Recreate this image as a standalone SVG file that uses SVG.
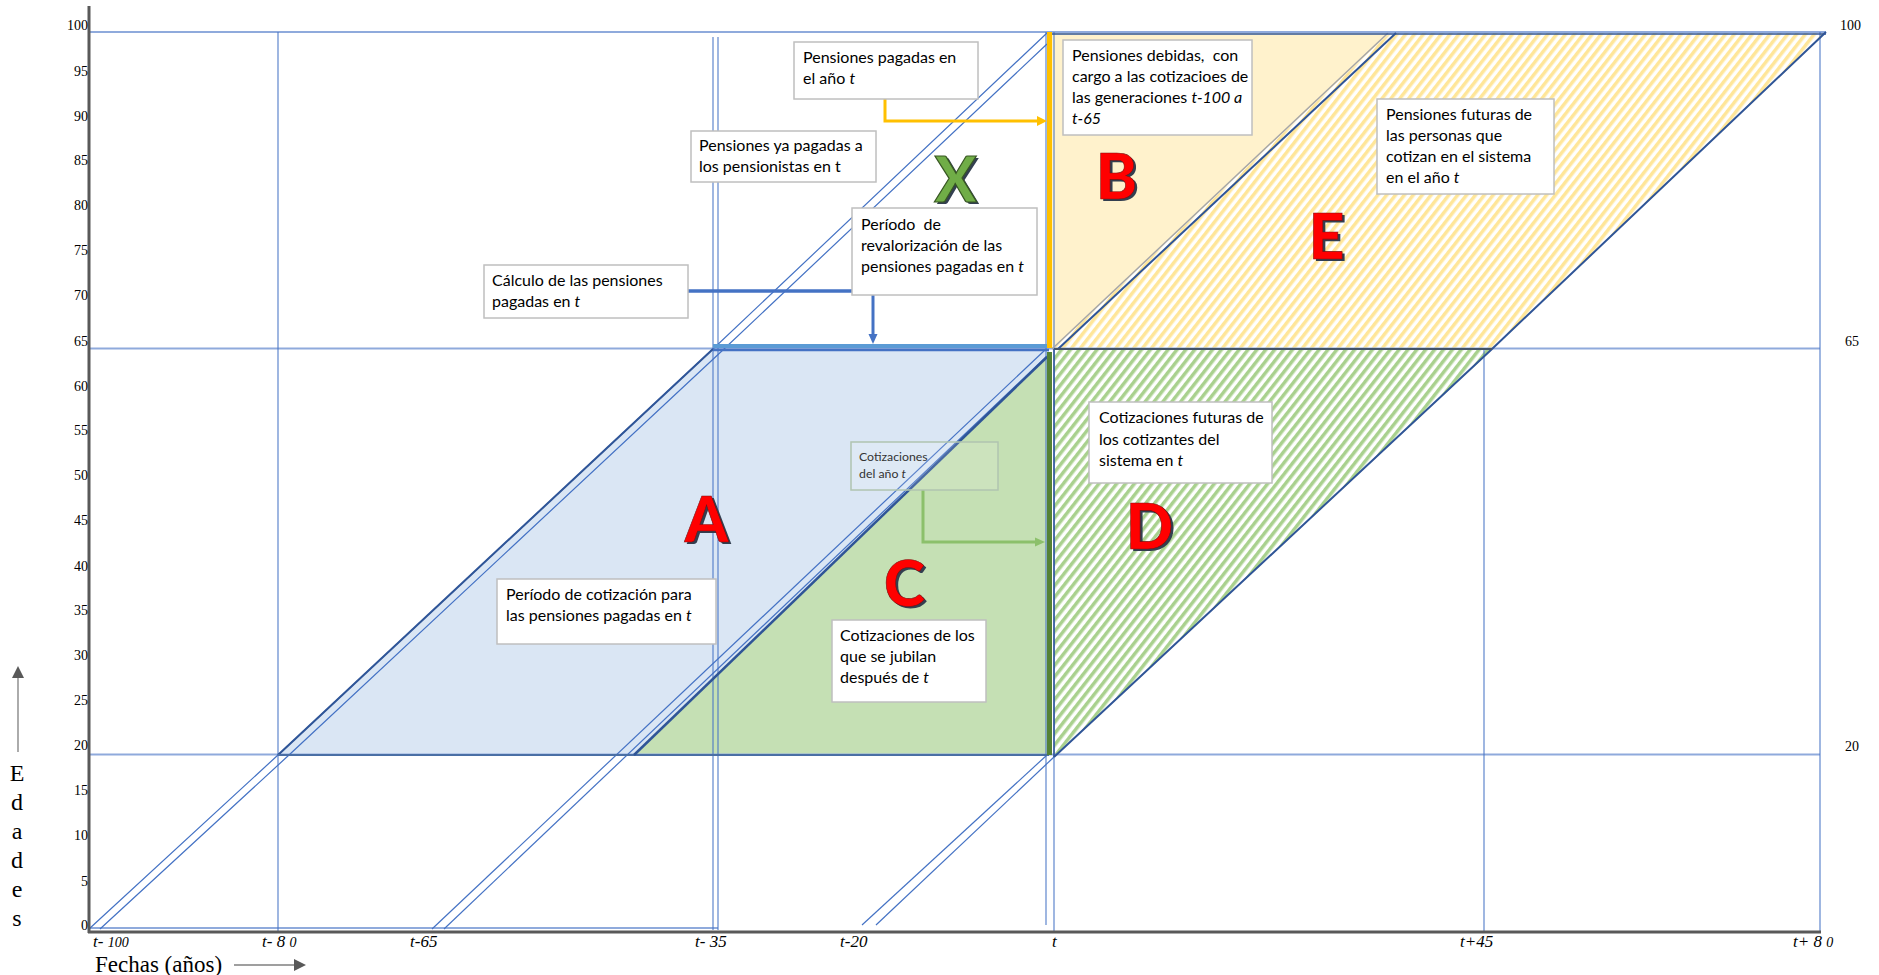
<svg xmlns="http://www.w3.org/2000/svg" width="1879" height="975" viewBox="0 0 1879 975">
<defs>
<style>
.grid{stroke:#8FAADC;stroke-width:2;fill:none}
.vl{stroke:#4472C4;stroke-width:1.2;fill:none;opacity:.85}
.coh{stroke:#4472C4;stroke-width:1.2;fill:none}
.edge{stroke:#2F5597;stroke-width:2;fill:none}
.box{fill:#fff;stroke:#BFBFBF;stroke-width:1.5}
.bt{font-family:Lato,"Open Sans",sans-serif;font-size:16px;fill:#000;white-space:pre}
.st{font-family:Lato,"Open Sans",sans-serif;font-size:12.3px;fill:#333}
.tick{font-family:"Liberation Serif",serif;font-size:14px;fill:#000;text-anchor:end}
.rt{font-family:"Liberation Serif",serif;font-size:14px;fill:#000}
.xl{font-family:"Liberation Serif",serif;font-size:17px;font-style:italic;fill:#000;white-space:pre}
.big{font-family:Lato,"Open Sans",sans-serif;font-weight:900;font-size:62px;text-anchor:middle}
.sh{fill:#333F50}
.red{fill:#FF0000;stroke:#7A1010;stroke-width:.6}
.grn{fill:#70AD47;stroke:#385723;stroke-width:1.2}
.ed{font-family:"Liberation Serif",serif;font-size:24px;fill:#000;text-anchor:middle}
</style>
<pattern id="hatchD" patternUnits="userSpaceOnUse" width="7" height="10" patternTransform="rotate(38)">
<rect width="7" height="10" fill="#fff"/>
<rect width="3.5" height="10" fill="#A9D18E"/>
</pattern>
<pattern id="hatchE" patternUnits="userSpaceOnUse" width="7" height="10" patternTransform="rotate(38)">
<rect width="7" height="10" fill="#fff"/>
<rect width="3.5" height="10" fill="#FFE699"/>
</pattern>
<marker id="arY" markerUnits="userSpaceOnUse" markerWidth="10" markerHeight="10" refX="0" refY="5" orient="auto"><path d="M0,0 L10,5 L0,10 z" fill="#FFC000"/></marker>
<marker id="arB" markerUnits="userSpaceOnUse" markerWidth="10" markerHeight="10" refX="0" refY="5" orient="auto"><path d="M0,0.5 L10,5 L0,9.5 z" fill="#4472C4"/></marker>
<marker id="arG" markerUnits="userSpaceOnUse" markerWidth="10" markerHeight="10" refX="0" refY="5" orient="auto"><path d="M0,0.5 L10,5 L0,9.5 z" fill="#8CC06B"/></marker>
<marker id="arK" markerUnits="userSpaceOnUse" markerWidth="12" markerHeight="12" refX="0" refY="6" orient="auto"><path d="M0,0 L12,6 L0,12 z" fill="#595959"/></marker>
</defs>
<rect width="1879" height="975" fill="#fff"/>

<g id="regions">
<polygon id="regionA" points="278,755 713,349 1049,349 1049,755" fill="#DAE6F4"/>
<polygon id="regionC" points="634,755 1047,357 1049,357 1049,755" fill="#C5E0B4"/>
<polygon id="regionB" points="1052,33 1390,33 1052,349" fill="#FFF2CC"/>
<polygon id="regionE" points="1053,349 1390,33 1826,33 1492,349" fill="url(#hatchE)"/>
<polygon id="regionD" points="1054,350 1492,350 1054,757" fill="url(#hatchD)"/>
</g>

<g id="grid">
<path class="grid" d="M89 32 H1826 M89 348.5 H1820 M89 754.5 H1820 M89 928 H718"/>
<path class="vl" d="M278 32 V932 M713 37 V930 M718 37 V930 M1046 32 V925 M1054 32 V932 M1484 349 V932 M1820 32 V932"/>
</g>

<g id="connectors">
<g id="cohorts">
<path class="coh" d="M89 929 L278 755 L713 349 L1047 33"/>
<path class="coh" d="M100 929 L289 755 L724 349 L1047 44"/>
<path class="coh" d="M432 929 L1045 350"/>
<path class="coh" d="M444 929 L1047 356"/>
<path class="coh" d="M862 925 L1047 755"/>
<path class="coh" d="M876 925 L1054 757"/>
</g>
<g id="edges">
<path class="edge" d="M278 755 L713 349"/>
<path d="M278 755 H1049" stroke="#4A6FA5" stroke-width="2" fill="none"/>
<path d="M634 755 L1047 357" stroke="#2F5597" stroke-width="2.5" fill="none"/>
<path d="M1052 349 L1388 33" stroke="#A6A6A6" stroke-width="1.5" fill="none"/>
<path class="edge" d="M1058 349 L1396 33"/>
<path class="edge" d="M1054 757 L1492 349 L1826 32"/>
<path d="M1052 34 H1826" stroke="#2F5597" stroke-width="1.5" fill="none"/>
<path d="M1054 349 H1492" stroke="#44546A" stroke-width="2" fill="none"/>
<path d="M1054 349 V757" stroke="#2F5597" stroke-width="1.5" fill="none"/>
</g>
<g id="thick">
<path d="M713 346 H1049" stroke="#5B9BD5" stroke-width="4" fill="none"/>
<path d="M713 350 H1049" stroke="#4472C4" stroke-width="2.5" fill="none"/>
<path d="M1049.5 32 V348" stroke="#FFC000" stroke-width="5" fill="none"/>
<path d="M1049.5 352 V755" stroke="#548235" stroke-width="5" fill="none"/>
</g>
<path id="arrowYellow" d="M885 99 V121 H1037" stroke="#FFC000" stroke-width="3" fill="none" marker-end="url(#arY)"/>
<path id="lineBlue" d="M688 291 H852" stroke="#4472C4" stroke-width="3.5" fill="none"/>
<path id="arrowBlue" d="M873 295 V334" stroke="#4472C4" stroke-width="3" fill="none" marker-end="url(#arB)"/>
<path id="arrowGreen" d="M923 490 V542 H1035" stroke="#8CC06B" stroke-width="3" fill="none" marker-end="url(#arG)"/>
</g>

<g id="box-pagadas-t">
<rect class="box" x="794" y="42" width="184" height="57"/>
<text class="bt" x="803" y="63">Pensiones pagadas en</text>
<text class="bt" x="803" y="84">el año <tspan font-style="italic">t</tspan></text>
</g>
<g id="box-ya-pagadas">
<rect class="box" x="691" y="131" width="185" height="51"/>
<text class="bt" x="699" y="151">Pensiones ya pagadas a</text>
<text class="bt" x="699" y="172">los pensionistas en t</text>
</g>
<g id="box-revalorizacion">
<rect class="box" x="852" y="208" width="185" height="87"/>
<text class="bt" x="861" y="230">Período  de</text>
<text class="bt" x="861" y="251">revalorización de las</text>
<text class="bt" x="861" y="272">pensiones pagadas en <tspan font-style="italic">t</tspan></text>
</g>
<g id="box-calculo">
<rect class="box" x="484" y="265" width="204" height="53"/>
<text class="bt" x="492" y="286">Cálculo de las pensiones</text>
<text class="bt" x="492" y="307">pagadas en <tspan font-style="italic">t</tspan></text>
</g>
<g id="box-debidas">
<rect class="box" x="1063" y="40" width="189" height="95"/>
<text class="bt" x="1072" y="61">Pensiones debidas,  con</text>
<text class="bt" x="1072" y="82">cargo a las cotizacioes de</text>
<text class="bt" x="1072" y="103">las generaciones <tspan font-style="italic">t-100 a</tspan></text>
<text class="bt" x="1072" y="124" font-style="italic">t-65</text>
</g>
<g id="box-futuras">
<rect class="box" x="1377" y="99" width="177" height="95"/>
<text class="bt" x="1386" y="120">Pensiones futuras de</text>
<text class="bt" x="1386" y="141">las personas que</text>
<text class="bt" x="1386" y="162">cotizan en el sistema</text>
<text class="bt" x="1386" y="183">en el año <tspan font-style="italic">t</tspan></text>
</g>
<g id="box-cot-futuras">
<rect class="box" x="1089" y="402" width="183" height="81"/>
<text class="bt" x="1099" y="423">Cotizaciones futuras de</text>
<text class="bt" x="1099" y="445">los cotizantes del</text>
<text class="bt" x="1099" y="466">sistema en <tspan font-style="italic">t</tspan></text>
</g>
<g id="box-cot-ano">
<rect x="851" y="442" width="147" height="48" fill="#fff" fill-opacity="0.12" stroke="#B0C4B0" stroke-width="1.5"/>
<text class="st" x="859" y="461">Cotizaciones</text>
<text class="st" x="859" y="478">del año <tspan font-style="italic">t</tspan></text>
</g>
<g id="box-periodo-cot">
<rect class="box" x="497" y="579" width="219" height="65"/>
<text class="bt" x="506" y="600">Período de cotización para</text>
<text class="bt" x="506" y="621">las pensiones pagadas en <tspan font-style="italic">t</tspan></text>
</g>
<g id="box-jubilan">
<rect class="box" x="832" y="620" width="154" height="82"/>
<text class="bt" x="840" y="641">Cotizaciones de los</text>
<text class="bt" x="840" y="662">que se jubilan</text>
<text class="bt" x="840" y="683">después de <tspan font-style="italic">t</tspan></text>
</g>

<g id="letter-X"><text class="big sh" x="958" y="204">X</text><text class="big grn" x="955.5" y="201.5">X</text></g>
<g id="letter-B"><text class="big sh" x="1119" y="201">B</text><text class="big red" x="1116.5" y="198.5">B</text></g>
<g id="letter-E"><text class="big sh" x="1329" y="261">E</text><text class="big red" x="1326.5" y="258.5">E</text></g>
<g id="letter-A"><text class="big sh" x="709" y="544">A</text><text class="big red" x="706.5" y="541.5">A</text></g>
<g id="letter-C"><text class="big sh" x="907" y="608">C</text><text class="big red" x="904.5" y="605.5">C</text></g>
<g id="letter-D"><text class="big sh" x="1152" y="551">D</text><text class="big red" x="1149.5" y="548.5">D</text></g>

<g id="axes">
<path d="M89 6 V933" stroke="#595959" stroke-width="3" fill="none"/>
<path d="M88 932 H1821" stroke="#595959" stroke-width="3" fill="none"/>
<path d="M18 752 V678" stroke="#7F7F7F" stroke-width="1.3" fill="none" marker-end="url(#arK)"/>
<path d="M234 965 H294" stroke="#7F7F7F" stroke-width="1.3" fill="none" marker-end="url(#arK)"/>
</g>

<g id="y-ticks">
<text class="tick" x="88" y="30">100</text>
<text class="tick" x="88" y="76">95</text>
<text class="tick" x="88" y="121">90</text>
<text class="tick" x="88" y="165">85</text>
<text class="tick" x="88" y="210">80</text>
<text class="tick" x="88" y="255">75</text>
<text class="tick" x="88" y="300">70</text>
<text class="tick" x="88" y="346">65</text>
<text class="tick" x="88" y="391">60</text>
<text class="tick" x="88" y="435">55</text>
<text class="tick" x="88" y="480">50</text>
<text class="tick" x="88" y="525">45</text>
<text class="tick" x="88" y="571">40</text>
<text class="tick" x="88" y="615">35</text>
<text class="tick" x="88" y="660">30</text>
<text class="tick" x="88" y="705">25</text>
<text class="tick" x="88" y="750">20</text>
<text class="tick" x="88" y="795">15</text>
<text class="tick" x="88" y="840">10</text>
<text class="tick" x="88" y="886">5</text>
<text class="tick" x="88" y="930">0</text>
<text class="rt" x="1840" y="30">100</text>
<text class="rt" x="1845" y="346">65</text>
<text class="rt" x="1845" y="751">20</text>
</g>

<g id="x-ticks">
<text class="xl" x="93" y="947">t- <tspan font-size="14">100</tspan></text>
<text class="xl" x="262" y="947">t- 8 <tspan font-size="14">0</tspan></text>
<text class="xl" x="410" y="947">t-65</text>
<text class="xl" x="695" y="947">t- 35</text>
<text class="xl" x="840" y="947">t-20</text>
<text class="xl" x="1052" y="947">t</text>
<text class="xl" x="1460" y="947">t+45</text>
<text class="xl" x="1793" y="947">t+ 8 <tspan font-size="14">0</tspan></text>
</g>

<g id="axis-titles">
<text x="95" y="972" font-family="Liberation Serif, serif" font-size="23" fill="#000">Fechas (años)</text>
<text class="ed" x="17" y="781">E</text>
<text class="ed" x="17" y="810">d</text>
<text class="ed" x="17" y="839">a</text>
<text class="ed" x="17" y="868">d</text>
<text class="ed" x="17" y="897">e</text>
<text class="ed" x="17" y="926">s</text>
</g>
</svg>
